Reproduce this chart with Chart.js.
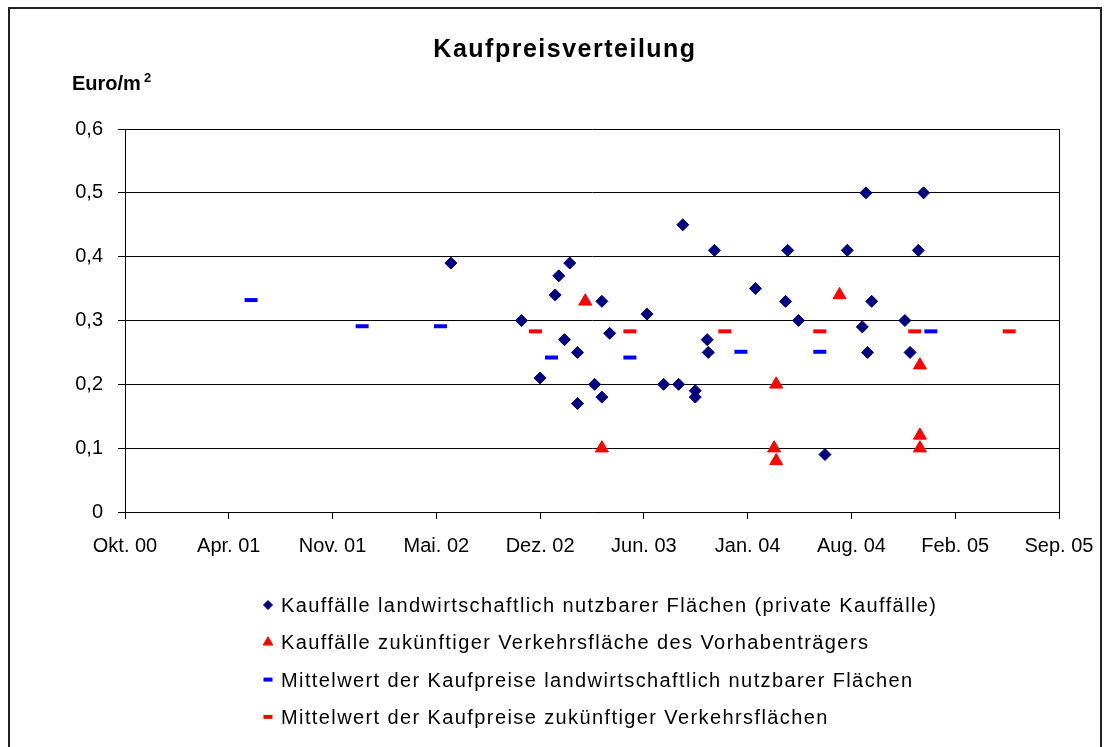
<!DOCTYPE html>
<html lang="de">
<head>
<meta charset="utf-8">
<title>Kaufpreisverteilung</title>
<script src="https://cdn.jsdelivr.net/npm/chart.js@4.4.1/dist/chart.umd.min.js"></script>
<style>
  html, body { margin: 0; padding: 0; background: #fff; }
  #wrap { width: 1109px; height: 747px; }
</style>
</head>
<body>
<div id="wrap"><canvas id="kaufpreisChart" width="1109" height="747"></canvas></div>
<script>
// Kauffälle landwirtschaftlich nutzbarer Flächen (private Kauffälle)
const privatDaten = [
  "2002-06-21", "2002-11-04", "2002-12-10", "2003-01-08", "2003-01-15", "2003-01-26",
  "2003-02-05", "2003-02-20", "2003-02-20", "2003-03-25", "2003-04-08", "2003-04-08",
  "2003-04-23", "2003-07-04", "2003-08-05", "2003-09-03", "2003-09-11", "2003-10-05",
  "2003-10-05", "2003-10-28", "2003-10-30", "2003-11-11", "2004-01-29", "2004-03-27",
  "2004-03-31", "2004-04-21", "2004-06-11", "2004-07-24", "2004-08-22", "2004-08-29",
  "2004-09-01", "2004-09-09", "2004-11-12", "2004-11-22", "2004-12-08", "2004-12-18",
];
const privatPreise = [
  0.39, 0.30, 0.21, 0.34, 0.37, 0.27,
  0.39, 0.25, 0.17, 0.20, 0.33, 0.18,
  0.28, 0.31, 0.20, 0.20, 0.45, 0.19,
  0.18, 0.27, 0.25, 0.41, 0.35, 0.33,
  0.41, 0.30, 0.09, 0.41, 0.29, 0.50,
  0.25, 0.33, 0.30, 0.25, 0.41, 0.50,
];

// Kauffälle zukünftiger Verkehrsfläche des Vorhabenträgers
const vorhabenDaten = [
  "2003-03-07", "2003-04-08", "2004-03-05", "2004-03-09", "2004-03-09",
  "2004-07-09", "2004-12-11", "2004-12-11", "2004-12-11",
];
const vorhabenPreise = [0.33, 0.10, 0.10, 0.08, 0.20, 0.34, 0.23, 0.12, 0.10];

// Mittelwerte landwirtschaftlich nutzbarer Flächen
const mittelLwDaten = [
  "2001-06-01", "2002-01-01", "2002-06-01", "2003-01-01",
  "2003-06-01", "2004-01-01", "2004-06-01", "2005-01-01",
];
const mittelLwPreise = [0.332, 0.291, 0.291, 0.242, 0.242, 0.251, 0.251, 0.283];

// Mittelwerte zukünftiger Verkehrsflächen
const mittelVkDaten = [
  "2002-12-01", "2003-06-01", "2003-12-01", "2004-06-01", "2004-12-01", "2005-06-01",
];
const mittelVkPreise = [0.283, 0.283, 0.283, 0.283, 0.283, 0.283];

// x-Achse: Tage ab 1. Okt. 2000, Teilstriche alle 200 Tage
const achsenStart = Date.UTC(2000, 9, 1);
const achsenTage = 1800;
const tickAbstand = 200;
const monate = ["Jan", "Feb", "Mär", "Apr", "Mai", "Jun", "Jul", "Aug", "Sep", "Okt", "Nov", "Dez"];

const FONT = '"Liberation Sans", Arial, Helvetica, sans-serif';

function tage(datum) {
  return Math.round((Date.parse(datum) - achsenStart) / 864e5);
}

function punkte(daten, preise) {
  return daten.map((d, i) => ({ x: tage(d), y: preise[i] }));
}

function datumLabel(v) {
  const d = new Date(achsenStart + v * 864e5);
  return monate[d.getUTCMonth()] + ". " + String(d.getUTCFullYear()).slice(2);
}

const datasets = [
  {
    label: "Kauffälle landwirtschaftlich nutzbarer Flächen (private Kauffälle)",
    data: punkte(privatDaten, privatPreise),
    pointStyle: "rectRot",
    pointRadius: 6,
    pointBorderWidth: 1,
    backgroundColor: "#000080",
    borderColor: "#000080",
    legendRadius: 4.5,
  },
  {
    label: "Kauffälle zukünftiger Verkehrsfläche des Vorhabenträgers",
    data: punkte(vorhabenDaten, vorhabenPreise),
    pointStyle: "triangle",
    pointRadius: 7.5,
    pointBorderWidth: 1,
    backgroundColor: "#ff0000",
    borderColor: "#ff0000",
    legendRadius: 5.5,
  },
  {
    label: "Mittelwert der Kaufpreise landwirtschaftlich nutzbarer Flächen",
    data: punkte(mittelLwDaten, mittelLwPreise),
    pointStyle: "line",
    pointRadius: 6.5,
    pointBorderWidth: 4,
    backgroundColor: "#0000ff",
    borderColor: "#0000ff",
    legendRadius: 4.5,
  },
  {
    label: "Mittelwert der Kaufpreise zukünftiger Verkehrsflächen",
    data: punkte(mittelVkDaten, mittelVkPreise),
    pointStyle: "line",
    pointRadius: 6.5,
    pointBorderWidth: 4,
    backgroundColor: "#ff0000",
    borderColor: "#ff0000",
    legendRadius: 4.5,
  },
];

// Rahmen, Titel, Achsentitel und Legende direkt auf die Zeichenfläche
const beschriftung = {
  id: "beschriftung",
  afterDraw(chart) {
    const ctx = chart.ctx;
    ctx.save();

    // Rahmen um das Diagramm
    ctx.strokeStyle = "#222";
    ctx.lineWidth = 2;
    ctx.strokeRect(9, 8, 1092, 800);

    ctx.fillStyle = "#000";
    ctx.textBaseline = "alphabetic";

    // Titel
    ctx.font = "bold 25px " + FONT;
    ctx.textAlign = "center";
    ctx.letterSpacing = "1.5px";
    ctx.fillText("Kaufpreisverteilung", 565, 57);
    ctx.letterSpacing = "0px";

    // Einheit
    ctx.textAlign = "left";
    ctx.font = "bold 20px " + FONT;
    ctx.fillText("Euro/m", 72, 90);
    const w = ctx.measureText("Euro/m").width;
    ctx.font = "bold 13px " + FONT;
    ctx.fillText("2", 72 + w + 3, 82);

    // Legende
    ctx.font = "20px " + FONT;
    ctx.letterSpacing = "1.4px";
    chart.data.datasets.forEach((ds, i) => {
      const y = 605 + i * 37.3;
      ctx.fillStyle = ds.backgroundColor;
      ctx.strokeStyle = ds.borderColor;
      ctx.lineWidth = ds.pointStyle === "line" ? 4 : 1;
      Chart.helpers.drawPoint(ctx, {
        pointStyle: ds.pointStyle,
        radius: ds.legendRadius,
        rotation: 0,
        borderWidth: ctx.lineWidth,
      }, 268, y);
      ctx.fillStyle = "#000";
      ctx.fillText(ds.label, 281, y + 7);
    });

    ctx.restore();
  },
};

const chart = new Chart(document.getElementById("kaufpreisChart"), {
  type: "scatter",
  data: { datasets: datasets },
  options: {
    responsive: false,
    animation: false,
    events: [],
    layout: { padding: { left: 0, right: 50, top: 129, bottom: 180 } },
    plugins: {
      legend: { display: false },
      title: { display: false },
      tooltip: { enabled: false },
    },
    scales: {
      x: {
        type: "linear",
        min: 0,
        max: achsenTage,
        afterFit: (s) => { s.height = 55; },
        ticks: {
          stepSize: tickAbstand,
          autoSkip: false,
          maxRotation: 0,
          padding: 15,
          color: "#000",
          font: { family: FONT, size: 20 },
          callback: (v) => datumLabel(v),
        },
        grid: {
          drawOnChartArea: true,
          // nur der rechte Rand der Zeichenfläche wird als Linie gezeigt
          color: (c) => (c.tick && c.tick.value === achsenTage ? "#000" : "rgba(0,0,0,0)"),
          tickColor: "#000",
          tickLength: 7,
        },
        border: { display: true, color: "#000", width: 1 },
      },
      y: {
        min: 0,
        max: 0.6,
        afterFit: (s) => { s.width = 125; },
        ticks: {
          stepSize: 0.1,
          padding: 15,
          color: "#000",
          font: { family: FONT, size: 20 },
          callback: (v) => (v === 0 ? "0" : v.toFixed(1).replace(".", ",")),
        },
        grid: { color: "#000", tickColor: "#000", tickLength: 7 },
        border: { display: true, color: "#000", width: 1 },
      },
    },
  },
  plugins: [beschriftung],
});
</script>
</body>
</html>
